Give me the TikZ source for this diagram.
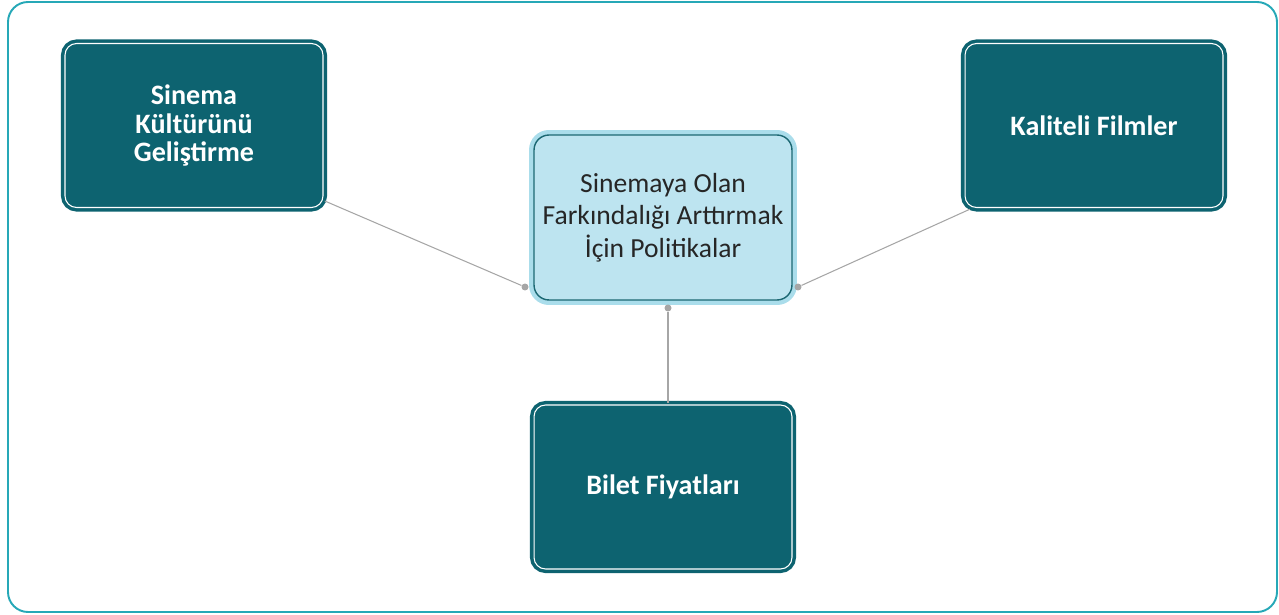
\documentclass[tikz,border=0pt]{standalone}
\usepackage{fontspec}
\setmainfont{Carlito}
\usetikzlibrary{positioning,calc}
\definecolor{polteal}{HTML}{0D6370}
\definecolor{polframe}{HTML}{26A8B7}
\definecolor{polsky}{HTML}{BDE4F0}
\definecolor{polhalo}{HTML}{AADDEB}
\definecolor{poledge}{HTML}{1C6873}
\definecolor{polgray}{HTML}{A6A6A6}
\definecolor{polink}{HTML}{262626}

\begin{document}
\begin{tikzpicture}[
  x=0.02cm,y=-0.02cm,
  topic/.style={rectangle,rounded corners=0.23cm,fill=polteal,draw=polteal,line width=2pt,double=white,double distance=0.6pt,minimum width=5.16cm,minimum height=3.28cm,align=center,text=white,font=\bfseries\fontsize{16}{16.5}\selectfont},
  hub/.style={rectangle,rounded corners=0.3cm,fill=polsky,draw=poledge,line width=0.8pt,preaction={draw=polhalo,line width=5.7pt},minimum width=5.16cm,minimum height=3.3cm,align=center,text=polink,font=\fontsize{15.7}{18.5}\selectfont},
  link/.style={draw=polgray,line width=0.6pt},
  dot/.style={circle,fill=polgray,inner sep=0pt,minimum size=0.14cm},
]
\useasboundingbox (0,0) rectangle (1279,615);
% outer frame
\draw[polframe,line width=1.1pt,rounded corners=0.4cm] (8,2) rectangle (1277,612);

\node[hub] (hub) at (663,217.5) {Sinemaya Olan\\Farkındalığı Arttırmak\\İçin Politikalar};
\node[topic] (cult) at (194,125.5) {Sinema\\Kültürünü\\Geliştirme};
\node[topic] (kal) at (1094,125.5) {Kaliteli Filmler};
\node[topic] (bil) at (663,487) {Bilet Fiyatları};

\node[dot] (dl) at (525,287) {};
\node[dot] (dr) at (798,287) {};
\node[dot] (db) at (668,308) {};
\draw[link] (dl) -- (cult.-30);
\draw[link] (dr) -- (kal.214);
\draw[link] (db) -- (db |- bil.north);
\end{tikzpicture}
\end{document}
